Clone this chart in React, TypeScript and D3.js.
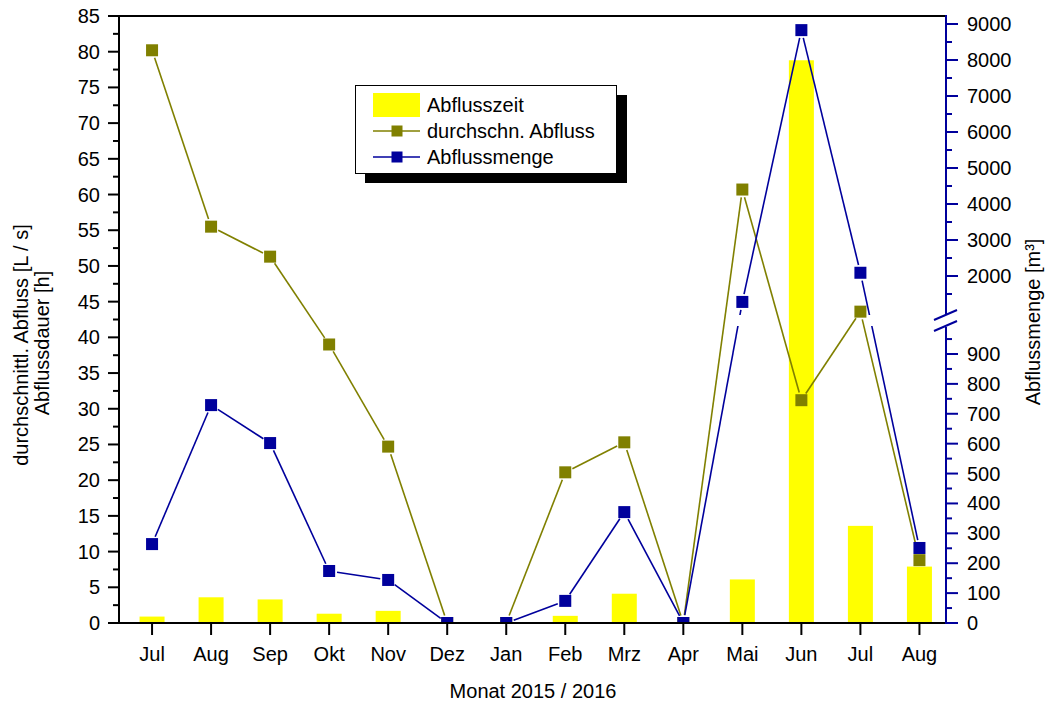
import React from "react";
import * as d3 from "d3";

// Monthly values, July 2015 – August 2016
const months = ["Jul", "Aug", "Sep", "Okt", "Nov", "Dez", "Jan", "Feb", "Mrz", "Apr", "Mai", "Jun", "Jul", "Aug"];
const abflusszeit = [0.9, 3.6, 3.3, 1.3, 1.7, 0, 0, 1.0, 4.1, 0, 6.1, 78.8, 13.6, 7.9];
const durchschnAbfluss = [80.2, 55.5, 51.3, 39.0, 24.7, 0, 0, 21.1, 25.3, 0, 60.7, 31.2, 43.6, 8.8];
const abflussmenge = [264, 729, 602, 174, 144, 0, 0, 74, 371, 0, 1280, 8830, 2090, 251];

const leftTicks = d3.range(0, 86, 5);
const leftMinor = d3.range(2.5, 85, 5);
const rightLowerTicks = d3.range(0, 901, 100);
const rightLowerMinor = d3.range(50, 1000, 100);
const rightUpperTicks = d3.range(2000, 9001, 1000);
const rightUpperMinor = d3.range(1500, 9001, 1000);

const W = 1046;
const H = 701;
const L = 119;
const R = 946;
const T = 16;
const B = 623;

const FONT = "Arial, 'Liberation Sans', Helvetica, sans-serif";
const YELLOW = "#ffff00";
const OLIVE = "#808000";
const BLUE = "#00009c";

const x = d3.scaleLinear().domain([-0.56, 13.45]).range([L, R]);
const yL = d3.scaleLinear().domain([0, 85]).range([B, T]);
// broken right axis: 0–1000 below the break, 2000–9000 above it
const yLower = d3.scaleLinear().domain([0, 1000]).range([B, 324.1]);
const yUpper = d3.scaleLinear().domain([2000, 9000]).range([276, 24]);
const yR = (v: number) => (v <= 1000 ? yLower(v) : yUpper(v));

const BREAK_TOP = 315;
const BREAK_BOTTOM = 326;

// segments between consecutive points, trimmed so they stop short of the markers
function trimmedSegments(pts: [number, number][], gap: number) {
  const segs: [number, number, number, number][] = [];
  for (let i = 0; i < pts.length - 1; i++) {
    const [x1, y1] = pts[i];
    const [x2, y2] = pts[i + 1];
    const dx = x2 - x1;
    const dy = y2 - y1;
    const len = Math.hypot(dx, dy);
    if (len <= gap * 2) continue;
    const ux = dx / len;
    const uy = dy / len;
    segs.push([x1 + ux * gap, y1 + uy * gap, x2 - ux * gap, y2 - uy * gap]);
  }
  return segs;
}

export default function App() {
  const barW = 25;
  const mk = 12;
  const olivePts = durchschnAbfluss.map((v, i) => [x(i), yL(v)] as [number, number]);
  const bluePts = abflussmenge.map((v, i) => [x(i), yR(v)] as [number, number]);
  const oliveSegs = trimmedSegments(olivePts, 8);
  const blueSegs = trimmedSegments(bluePts, 8);

  return (
    <svg
      width={W}
      height={H}
      viewBox={`0 0 ${W} ${H}`}
      style={{ position: "absolute", left: 0, top: 0, background: "#fff" }}
      fontFamily={FONT}
    >
      <defs>
        <clipPath id="plot">
          <rect x={L} y={T} width={R - L} height={B - T} />
        </clipPath>
        <clipPath id="plotBroken">
          <rect x={L} y={T} width={R - L} height={BREAK_TOP - T} />
          <rect x={L} y={BREAK_BOTTOM} width={R - L} height={B - BREAK_BOTTOM} />
        </clipPath>
      </defs>

      <rect x={0} y={0} width={W} height={H} fill="#fff" />

      {/* Abflusszeit bars */}
      <g clipPath="url(#plot)">
        {abflusszeit.map((v, i) =>
          v > 0 ? (
            <rect key={i} x={x(i) - barW / 2} y={yL(v)} width={barW} height={B - yL(v)} fill={YELLOW} />
          ) : null
        )}
      </g>

      {/* durchschn. Abfluss */}
      <g clipPath="url(#plot)">
        {oliveSegs.map((s, i) => (
          <line key={i} x1={s[0]} y1={s[1]} x2={s[2]} y2={s[3]} stroke={OLIVE} strokeWidth={1.6} />
        ))}
        {olivePts.map((p, i) => (
          <rect key={i} x={p[0] - mk / 2} y={p[1] - mk / 2} width={mk} height={mk} fill={OLIVE} />
        ))}
      </g>

      {/* Abflussmenge */}
      <g clipPath="url(#plotBroken)">
        {blueSegs.map((s, i) => (
          <line key={i} x1={s[0]} y1={s[1]} x2={s[2]} y2={s[3]} stroke={BLUE} strokeWidth={1.6} />
        ))}
      </g>
      <g clipPath="url(#plot)">
        {bluePts.map((p, i) => (
          <rect key={i} x={p[0] - mk / 2} y={p[1] - mk / 2} width={mk} height={mk} fill={BLUE} />
        ))}
      </g>

      {/* frame: top and bottom */}
      <line x1={L} y1={T} x2={R} y2={T} stroke="#000" strokeWidth={2} />
      <line x1={L - 1} y1={B} x2={R} y2={B} stroke="#000" strokeWidth={2} />

      {/* left axis */}
      <line x1={L} y1={T - 1} x2={L} y2={B + 1} stroke="#000" strokeWidth={2} />
      {leftTicks.map((t) => (
        <g key={t}>
          <line x1={L - 11} y1={yL(t)} x2={L} y2={yL(t)} stroke="#000" strokeWidth={2} />
          <text x={L - 19} y={yL(t) + 7} textAnchor="end" fontSize={20} fill="#000">
            {t}
          </text>
        </g>
      ))}
      {leftMinor.map((t) => (
        <line key={t} x1={L - 6} y1={yL(t)} x2={L} y2={yL(t)} stroke="#000" strokeWidth={2} />
      ))}

      {/* bottom axis */}
      {months.map((m, i) => (
        <g key={i}>
          <line x1={x(i)} y1={B} x2={x(i)} y2={B + 12} stroke="#000" strokeWidth={2} />
          <text x={x(i)} y={661} textAnchor="middle" fontSize={20} fill="#000">
            {m}
          </text>
        </g>
      ))}
      <text x={533} y={698} textAnchor="middle" fontSize={20} fill="#000">
        Monat 2015 / 2016
      </text>

      {/* right axis, broken */}
      <line x1={R} y1={T - 1} x2={R} y2={BREAK_TOP - 1} stroke={BLUE} strokeWidth={2} />
      <line x1={R} y1={BREAK_BOTTOM + 1} x2={R} y2={B + 1} stroke={BLUE} strokeWidth={2} />
      {rightLowerTicks.map((t) => (
        <g key={"l" + t}>
          <line x1={R} y1={yLower(t)} x2={R + 12} y2={yLower(t)} stroke={BLUE} strokeWidth={2} />
          <text x={R + 21} y={yLower(t) + 7} fontSize={20} fill="#000">
            {t}
          </text>
        </g>
      ))}
      {rightLowerMinor.map((t) => (
        <line key={"lm" + t} x1={R} y1={yLower(t)} x2={R + 6} y2={yLower(t)} stroke={BLUE} strokeWidth={2} />
      ))}
      {rightUpperTicks.map((t) => (
        <g key={"u" + t}>
          <line x1={R} y1={yUpper(t)} x2={R + 12} y2={yUpper(t)} stroke={BLUE} strokeWidth={2} />
          <text x={R + 21} y={yUpper(t) + 7} fontSize={20} fill="#000">
            {t}
          </text>
        </g>
      ))}
      {rightUpperMinor.map((t) => (
        <line key={"um" + t} x1={R} y1={yUpper(t)} x2={R + 6} y2={yUpper(t)} stroke={BLUE} strokeWidth={2} />
      ))}
      <line x1={R - 12} y1={BREAK_TOP + 5} x2={R + 11} y2={BREAK_TOP - 5} stroke={BLUE} strokeWidth={2} />
      <line x1={R - 12} y1={BREAK_BOTTOM + 5} x2={R + 11} y2={BREAK_BOTTOM - 5} stroke={BLUE} strokeWidth={2} />

      {/* axis titles */}
      <text transform="translate(28,345) rotate(-90)" textAnchor="middle" fontSize={20} fill="#000">
        durchschnittl. Abfluss [L / s]
      </text>
      <text transform="translate(49,343) rotate(-90)" textAnchor="middle" fontSize={20} fill="#000">
        Abflussdauer [h]
      </text>
      <text transform="translate(1040,322) rotate(-90)" textAnchor="middle" fontSize={20} fill="#000">
        Abflussmenge [m³]
      </text>

      {/* legend */}
      <g>
        <rect x={365} y={95} width={262} height={88} fill="#000" />
        <rect x={355.5} y={85.5} width={261} height={88} fill="#fff" stroke="#000" strokeWidth={1} />
        <rect x={373} y={93} width={47} height={24} fill={YELLOW} />
        <text x={427} y={112} fontSize={20} fill="#000">
          Abflusszeit
        </text>
        <line x1={373} y1={131} x2={420} y2={131} stroke={OLIVE} strokeWidth={1.6} />
        <rect x={391.5} y={125.5} width={11} height={11} fill={OLIVE} />
        <text x={427} y={138} fontSize={20} fill="#000">
          durchschn. Abfluss
        </text>
        <line x1={373} y1={157} x2={420} y2={157} stroke={BLUE} strokeWidth={1.6} />
        <rect x={391.5} y={151.5} width={11} height={11} fill={BLUE} />
        <text x={427} y={164} fontSize={20} fill="#000">
          Abflussmenge
        </text>
      </g>
    </svg>
  );
}
